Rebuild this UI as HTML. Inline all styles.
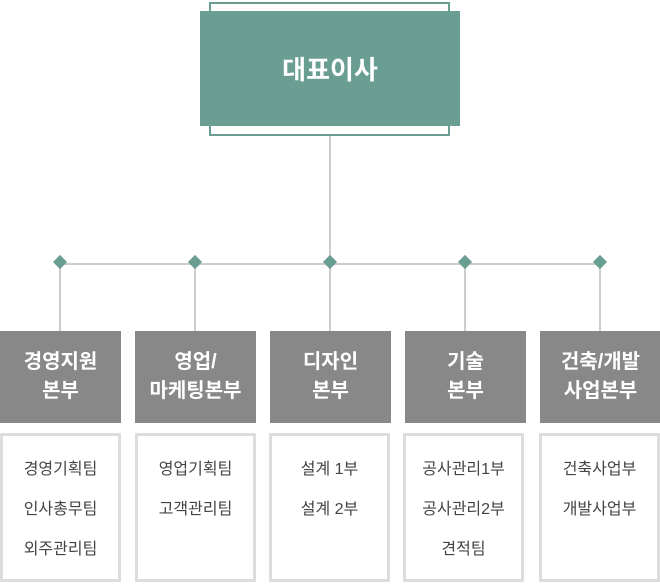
<!DOCTYPE html>
<html><head><meta charset="utf-8"><style>
body{margin:0;width:660px;height:585px;background:#fff;position:relative;overflow:hidden;font-family:"Liberation Sans","Noto Sans CJK KR",sans-serif}
.a{position:absolute}
.g{position:absolute;top:331px;width:121px;height:92px;background:#888;color:#fff;font-weight:bold;font-size:20px;line-height:29px;display:flex;align-items:center;justify-content:center;text-align:center}
.l{position:absolute;top:433px;width:115px;border:3px solid #ddd;color:#444;font-size:16px;line-height:40px;text-align:center;padding-top:14px;height:129px}
.d{position:absolute;top:257px;width:10px;height:10px;background:#6a9e93;transform:rotate(45deg)}
.v{position:absolute;width:2px;background:#ccc}
</style></head><body>
<div class="a" style="left:209px;top:2px;width:237px;height:130px;border:2px solid #6a9e93"></div>
<div class="a" style="left:200px;top:11px;width:260px;height:115px;background:#6a9e93;color:#fff;font-weight:bold;font-size:26px;display:flex;align-items:center;justify-content:center">대표이사</div>
<div class="v" style="left:329px;top:136px;height:128px"></div>
<div class="a" style="left:60px;top:263px;width:540px;height:2px;background:#ccc"></div>
<div class="v" style="left:59px;top:264px;height:67px"></div>
<div class="v" style="left:194px;top:264px;height:67px"></div>
<div class="v" style="left:329px;top:264px;height:67px"></div>
<div class="v" style="left:464px;top:264px;height:67px"></div>
<div class="v" style="left:599px;top:264px;height:67px"></div>
<div class="d" style="left:55px"></div><div class="d" style="left:190px"></div><div class="d" style="left:325px"></div><div class="d" style="left:460px"></div><div class="d" style="left:595px"></div>
<div class="g" style="left:0">경영지원<br>본부</div>
<div class="g" style="left:135px">영업/<br>마케팅본부</div>
<div class="g" style="left:270px">디자인<br>본부</div>
<div class="g" style="left:405px">기술<br>본부</div>
<div class="g" style="left:540px">건축/개발<br>사업본부</div>
<div class="l" style="left:0">경영기획팀<br>인사총무팀<br>외주관리팀</div>
<div class="l" style="left:135px">영업기획팀<br>고객관리팀</div>
<div class="l" style="left:269px">설계 1부<br>설계 2부</div>
<div class="l" style="left:403px">공사관리1부<br>공사관리2부<br>견적팀</div>
<div class="l" style="left:539px">건축사업부<br>개발사업부</div>
</body></html>
